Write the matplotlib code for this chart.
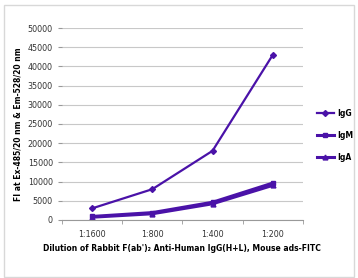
import matplotlib.pyplot as plt
from matplotlib.patches import Rectangle

# Data
dilutions = ['1:1600', '1:800', '1:400', '1:200']
igg = [3000, 8000, 18000, 43000]
igm = [900, 1900, 4600, 9600]
iga = [700, 1600, 4200, 9000]

purple = '#4a12a8'

fig = plt.figure(figsize=(3.58, 2.78), dpi=100)
fig.patches.append(Rectangle((0.012, 0.005), 0.976, 0.978, transform=fig.transFigure,
                             fill=False, edgecolor='#d8d8d8', linewidth=1))
ax = fig.add_axes([0.173, 0.209, 0.673, 0.69])

x = range(len(dilutions))
ax.plot(x, igg, color=purple, lw=1.6, marker='D', ms=3, label='IgG')
ax.plot(x, igm, color=purple, lw=2.2, marker='s', ms=3, label='IgM')
ax.plot(x, iga, color=purple, lw=2.2, marker='^', ms=3.5, label='IgA')

ax.set_xlim(-0.5, 3.5)
ax.set_ylim(0, 50000)
ax.set_yticks(range(0, 50001, 5000))
ax.set_xticks(list(x))
ax.set_xticklabels(dilutions)
ax.set_xticks([-0.5, 0.5, 1.5, 2.5, 3.5], minor=True)
ax.tick_params(axis='x', which='major', length=0, labelsize=5.8, pad=7, colors='#333333')
ax.tick_params(axis='x', which='minor', length=3, color='#999999')
ax.tick_params(axis='y', length=3, color='#999999', labelsize=5.8, colors='#333333')
ax.grid(axis='y', color='#c8c8c8', lw=0.8)
ax.set_axisbelow(True)
for s in ['top', 'right', 'left']:
    ax.spines[s].set_visible(False)
ax.spines['bottom'].set_color('#999999')

ax.set_ylabel('FI at Ex-485/20 nm & Em-528/20 nm', fontsize=5.5, fontweight='bold', labelpad=4)
ax.set_xlabel("Dilution of Rabbit F(ab')\u2082 Anti-Human IgG(H+L), Mouse ads-FITC",
              fontsize=5.5, fontweight='bold', labelpad=4)

ax.legend(loc='center left', bbox_to_anchor=(1.03, 0.44), frameon=False,
          handlelength=2.2, handletextpad=0.4, labelspacing=1.7,
          prop={'weight': 'bold', 'size': 5.5})

fig.savefig('out.png', dpi=100)
